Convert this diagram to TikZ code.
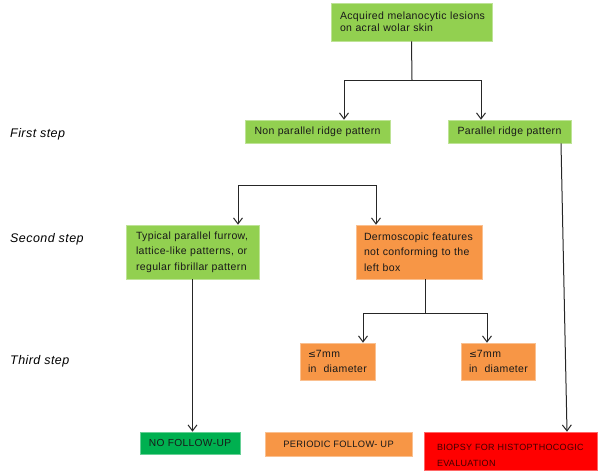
\documentclass[tikz,border=0pt]{standalone}
\usepackage{fontspec}
\setmainfont{Liberation Sans}[LetterSpace=3.5]
\newfontfamily\symfont{DejaVu Sans}
\usetikzlibrary{arrows.meta}
\definecolor{lgreen}{HTML}{92D050}
\definecolor{dgreen}{HTML}{00B050}
\definecolor{orng}{HTML}{F79646}
\definecolor{rred}{HTML}{FF0000}
\tikzset{
  box/.style={rectangle, inner xsep=0pt, inner ysep=0pt, font=\fontsize{10.5}{15.5}\selectfont, text=black!90,
    execute at begin node={\hyphenpenalty=10000\exhyphenpenalty=10000}},
  gbox/.style={box, fill=lgreen, draw=lgreen!60!white, line width=0.6pt},
  obox/.style={box, fill=orng, draw=orng!60!white, line width=0.6pt},
  arr/.style={draw=black!85, line width=1pt, -{Straight Barb[length=6pt,width=9pt,line width=1pt]}},
  ln/.style={draw=black!85, line width=1pt},
  steplbl/.style={anchor=west, font=\fontsize{12.5}{15}\selectfont\itshape, inner sep=0pt}
}
\newcommand{\leqsym}{{\symfont\fontsize{9.5}{15.5}\selectfont ≤}}
\begin{document}
\begin{tikzpicture}[x=1pt,y=-1pt]
\useasboundingbox (0,0) rectangle (600,472);
% boxes
\node[gbox, minimum width=161pt, minimum height=38pt, text width=143pt, align=left, font=\fontsize{10.5}{12}\selectfont] (top) at (411.5,22) {\mbox{Acquired melanocytic lesions}\\\mbox{on acral wolar skin}};
\node[gbox, minimum width=145pt, minimum height=23pt, align=center] (nonpar) at (317.5,131.5) {Non parallel ridge pattern};
\node[gbox, minimum width=123pt, minimum height=23pt, align=center] (par) at (509.5,131.5) {Parallel ridge pattern};
\node[gbox, minimum width=133pt, minimum height=54pt, text width=113pt, align=left] (typical) at (192.5,252) {\mbox{Typical parallel furrow,}\\\mbox{lattice-like patterns, or}\\\mbox{regular fibrillar pattern}};
\node[obox, minimum width=126pt, minimum height=54pt, text width=110pt, align=left] (derm) at (419,252) {\mbox{Dermoscopic features}\\\mbox{not conforming to the}\\\mbox{left box}};
\node[obox, minimum width=75pt, minimum height=37pt, text width=59pt, align=left] (le1) at (337.5,361.5) {\mbox{\leqsym7mm}\\\mbox{in\ \ diameter}};
\node[obox, minimum width=74pt, minimum height=37pt, text width=58pt, align=left] (le2) at (498,361.5) {\mbox{\leqsym7mm}\\\mbox{in\ \ diameter}};
\node[box, fill=dgreen, draw=dgreen!60!white, line width=0.6pt, minimum width=100pt, minimum height=22pt, align=center, font=\fontsize{10.2}{12}\selectfont] (nofollow) at (190,443) {NO FOLLOW-UP};
\node[obox, minimum width=147pt, minimum height=24pt, align=center, font=\fontsize{9.3}{12}\selectfont] (periodic) at (338.5,444) {PERIODIC FOLLOW- UP};
\node[box, fill=rred, draw=rred!60!white, line width=0.6pt, minimum width=173pt, minimum height=38pt, text width=147pt, align=left, font=\fontsize{9}{16}\selectfont, text=black!75!red] (biopsy) at (510.5,451) {\rule{0pt}{15pt}\mbox{BIOPSY FOR HISTOPTHOCOGIC}\\\mbox{EVALUATION}};
% step labels
\node[steplbl] (s1) at (10,134) {First step};
\node[steplbl] (s2) at (10,239) {Second step};
\node[steplbl] (s3) at (10,361) {Third step};
% connectors
\coordinate (split1) at (412,80);
\draw[ln] (top.south) -- (split1);
\draw[arr] (split1) -| ([xshift=26.5pt]nonpar.north);
\draw[arr] (split1) -| ([xshift=-28.5pt]par.north);
\draw[arr] ([xshift=51.5pt]par.south) -- ([xshift=56.5pt]biopsy.north);
\coordinate (split2) at (307,185);
\draw[arr] (split2) -| ([xshift=45.5pt]typical.north);
\draw[arr] (split2) -| ([xshift=-43pt]derm.north);
\draw[arr] (typical.south) -- (typical.south |- nofollow.north);
\coordinate (split3) at (425,313);
\draw[ln] ([xshift=6pt]derm.south) -- (split3);
\draw[arr] (split3) -| ([xshift=25.5pt]le1.north);
\draw[arr] (split3) -| ([xshift=-11pt]le2.north);
\end{tikzpicture}
\end{document}
